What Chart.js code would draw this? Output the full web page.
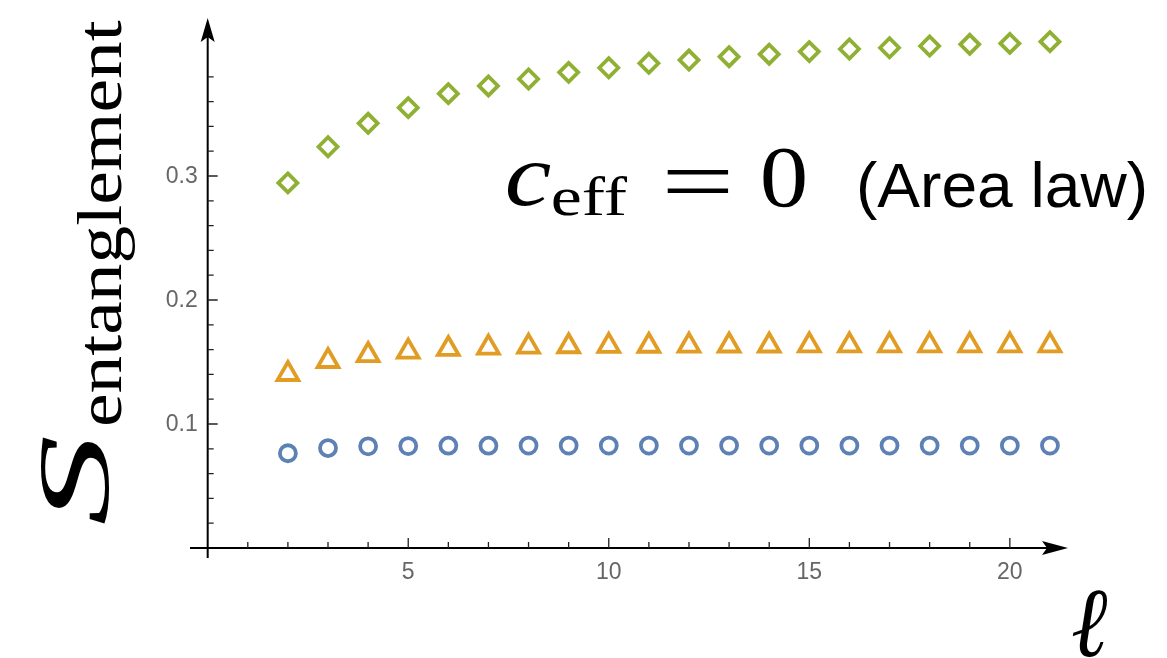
<!DOCTYPE html>
<html>
<head>
<meta charset="utf-8">
<script src="https://cdn.jsdelivr.net/npm/chart.js@4.4.1/dist/chart.umd.min.js"></script>
<style>
  html, body { margin: 0; padding: 0; background: #ffffff; }
  #wrap { width: 1167px; height: 658px; position: relative; }
</style>
</head>
<body>
<div id="wrap"><canvas id="c" width="1167" height="658"></canvas></div>
<script>
// ---- data ----
const ells = [2,3,4,5,6,7,8,9,10,11,12,13,14,15,16,17,18,19,20,21];
const sBlue = [0.0764,0.0806,0.0820,0.0822,0.0825,0.0825,0.0826,0.0826,0.0826,0.0826,0.0826,0.0826,0.0826,0.0826,0.0826,0.0826,0.0826,0.0826,0.0826,0.0826];
const sOrange = [0.1403,0.1508,0.1556,0.1584,0.1605,0.1616,0.1624,0.1627,0.1630,0.1631,0.1632,0.1633,0.1633,0.1634,0.1634,0.1634,0.1634,0.1634,0.1634,0.1634];
const sGreen = [0.2944,0.3236,0.3425,0.3551,0.3664,0.3726,0.3782,0.3836,0.3873,0.3909,0.3935,0.3962,0.3982,0.4003,0.4024,0.4034,0.4048,0.4062,0.4069,0.4083];
const xTickLabels = [5, 10, 15, 20];
const yTickLabels = [0.1, 0.2, 0.3];
const xMinorMax = 20;   // minor ticks every 1 up to 20
const yMinorMax = 0.38; // minor ticks every 0.02 up to 0.38

function pts(ys) { return ells.map((x, i) => ({ x: x, y: ys[i] })); }

function fitText(ctx, text, font, x0, y0, x1, y1) {
  ctx.save();
  ctx.font = font;
  ctx.textAlign = 'left';
  ctx.textBaseline = 'alphabetic';
  const m = ctx.measureText(text);
  const w = m.actualBoundingBoxLeft + m.actualBoundingBoxRight;
  const h = m.actualBoundingBoxAscent + m.actualBoundingBoxDescent;
  ctx.translate(x0, y0);
  ctx.scale((x1 - x0) / w, (y1 - y0) / h);
  ctx.fillText(text, m.actualBoundingBoxLeft, m.actualBoundingBoxAscent);
  ctx.restore();
}
// rotated (reading bottom->top); bbox given in screen coords
function fitTextRot(ctx, text, font, x0, y0, x1, y1) {
  ctx.save();
  ctx.font = font;
  ctx.textAlign = 'left';
  ctx.textBaseline = 'alphabetic';
  const m = ctx.measureText(text);
  const w = m.actualBoundingBoxLeft + m.actualBoundingBoxRight;
  const h = m.actualBoundingBoxAscent + m.actualBoundingBoxDescent;
  ctx.translate(x0, y1);
  ctx.rotate(-Math.PI / 2);
  ctx.scale((y1 - y0) / w, (x1 - x0) / h);
  ctx.fillText(text, m.actualBoundingBoxLeft, m.actualBoundingBoxAscent);
  ctx.restore();
}

const axesPlugin = {
  id: 'mathAxes',
  beforeDatasetsDraw(chart) {
    const ctx = chart.ctx;
    const xs = chart.scales.x, ys = chart.scales.y;
    const ox = xs.getPixelForValue(0), oy = ys.getPixelForValue(0);
    const left = xs.getPixelForValue(xs.min), right = xs.getPixelForValue(xs.max);
    const top = ys.getPixelForValue(ys.max), bottom = ys.getPixelForValue(ys.min);
    ctx.save();
    ctx.strokeStyle = '#000';
    ctx.fillStyle = '#000';
    ctx.lineWidth = 2;
    // axis lines
    ctx.beginPath();
    ctx.moveTo(left, oy); ctx.lineTo(right - 20, oy);
    ctx.moveTo(ox, bottom); ctx.lineTo(ox, top + 18);
    ctx.stroke();
    // arrow heads
    ctx.beginPath();
    ctx.moveTo(right, oy); ctx.lineTo(right - 26, oy - 7); ctx.lineTo(right - 21, oy); ctx.lineTo(right - 26, oy + 7); ctx.closePath();
    ctx.fill();
    ctx.beginPath();
    ctx.moveTo(ox, top); ctx.lineTo(ox - 7, top + 24); ctx.lineTo(ox, top + 19); ctx.lineTo(ox + 7, top + 24); ctx.closePath();
    ctx.fill();
    // ticks
    ctx.lineWidth = 1.3;
    ctx.strokeStyle = '#222';
    ctx.beginPath();
    for (let v = 1; v <= xMinorMax; v++) {
      const px = xs.getPixelForValue(v);
      const len = (v % 5 === 0) ? 10 : 6;
      ctx.moveTo(px, oy); ctx.lineTo(px, oy - len);
    }
    for (let k = 1; k * 0.02 <= yMinorMax + 1e-9; k++) {
      const py = ys.getPixelForValue(k * 0.02);
      const len = (k % 5 === 0) ? 10 : 6;
      ctx.moveTo(ox, py); ctx.lineTo(ox + len, py);
    }
    ctx.stroke();
    // tick labels
    ctx.fillStyle = '#666';
    ctx.font = '23px "Liberation Sans", Arial, sans-serif';
    ctx.textAlign = 'center';
    ctx.textBaseline = 'alphabetic';
    xTickLabels.forEach(v => ctx.fillText(String(v), xs.getPixelForValue(v), oy + 31));
    ctx.textAlign = 'right';
    ctx.textBaseline = 'middle';
    yTickLabels.forEach(v => ctx.fillText(v.toFixed(1), ox - 10, ys.getPixelForValue(v) + 1));
    ctx.restore();
  },
  afterDraw(chart) {
    const ctx = chart.ctx;
    ctx.save();
    ctx.fillStyle = '#000';
    // annotation  c_eff = 0 (Area law)
    fitText(ctx, 'c', 'italic 100px "Liberation Serif", serif', 508, 163, 551, 206);
    fitText(ctx, 'eff', '60px "Liberation Serif", serif', 553, 177, 627, 216);
    fitText(ctx, '=', '90px "Liberation Serif", serif', 667, 170, 729, 193);
    fitText(ctx, '0', '90px "Liberation Serif", serif', 763, 147, 805, 207);
    ctx.save();
    ctx.font = '63px "Liberation Sans", Arial, sans-serif';
    ctx.textBaseline = 'alphabetic';
    ctx.textAlign = 'left';
    const mw = ctx.measureText('(Area law)');
    const ww = mw.actualBoundingBoxLeft + mw.actualBoundingBoxRight;
    ctx.translate(859, 207);
    ctx.scale(286 / ww, 1);
    ctx.fillText('(Area law)', mw.actualBoundingBoxLeft, 0);
    ctx.restore();
    // x-axis label
    fitText(ctx, 'ℓ', 'italic 90px "Liberation Serif", "DejaVu Serif", serif', 1072, 590, 1108, 657);
    // y-axis label
    fitTextRot(ctx, 'S', 'italic 110px "Liberation Serif", serif', 42, 436, 110, 524);
    fitTextRot(ctx, 'entanglement', '75px "Liberation Serif", serif', 77, 20, 135, 425);
    ctx.restore();
  }
};

const common = { showLine: false, clip: false, pointBackgroundColor: 'rgba(255,255,255,0)', pointBorderWidth: 3.8 };

new Chart(document.getElementById('c'), {
  type: 'scatter',
  data: {
    datasets: [
      Object.assign({ label: 'blue', data: pts(sBlue), pointStyle: 'circle', pointRadius: 8, pointBorderColor: '#5E81B5' }, common),
      Object.assign({ label: 'orange', data: pts(sOrange), pointStyle: 'triangle', pointRadius: 12, pointBorderColor: '#E19C24' }, common),
      Object.assign({ label: 'green', data: pts(sGreen), pointStyle: 'rectRot', pointRadius: 9.5, pointBorderColor: '#8FB032' }, common)
    ]
  },
  options: {
    responsive: false,
    animation: false,
    events: [],
    layout: { padding: { left: 190, right: 99, top: 18, bottom: 100 } },
    plugins: { legend: { display: false }, tooltip: { enabled: false } },
    scales: {
      x: { type: 'linear', display: false, min: -0.441, max: 21.45 },
      y: { type: 'linear', display: false, min: -0.00806, max: 0.4274 }
    }
  },
  plugins: [axesPlugin]
});
</script>
</body>
</html>
